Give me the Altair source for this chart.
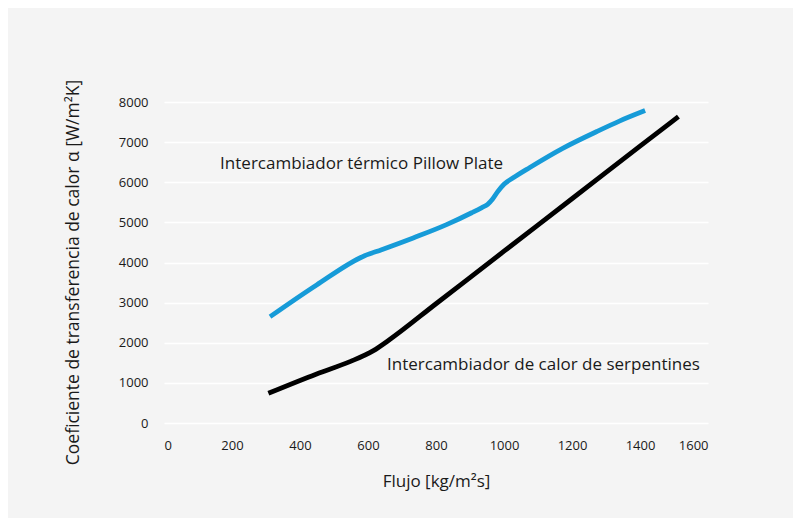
import altair as alt
import pandas as pd

# Pillow Plate heat exchanger (blue)
pillow_x = [312, 449, 590, 640, 733, 831, 905, 935, 952, 966, 981, 1000, 1027, 1076, 1174, 1273, 1341, 1415]
pillow_y = [2650, 3441, 4170, 4320, 4612, 4943, 5240, 5370, 5450, 5575, 5760, 5950, 6110, 6368, 6851, 7264, 7530, 7786]

# Coil heat exchanger (black)
coil_x = [307, 449, 547, 616, 660, 800, 1000, 1200, 1400, 1513]
coil_y = [740, 1222, 1529, 1803, 2056, 2972, 4281, 5589, 6898, 7637]

series_names = ["Intercambiador térmico Pillow Plate", "Intercambiador de calor de serpentines"]
series_colors = ["#169bd8", "#000000"]

label_x = [165, 656]
label_y = [6334, 1322]

x_ticks = [0, 200, 400, 600, 800, 1000, 1200, 1400, 1600]
y_ticks = [0, 1000, 2000, 3000, 4000, 5000, 6000, 7000, 8000]

x_title = "Flujo [kg/m²s]"
y_title = "Coeficiente de transferencia de calor α [W/m²K]"

rows = []
for i, (x, y) in enumerate(zip(pillow_x, pillow_y)):
    rows.append({"serie": series_names[0], "flujo": x, "coef": y, "orden": i})
for i, (x, y) in enumerate(zip(coil_x, coil_y)):
    rows.append({"serie": series_names[1], "flujo": x, "coef": y, "orden": i})
df = pd.DataFrame(rows)

labels = pd.DataFrame({"texto": series_names, "flujo": label_x, "coef": label_y})

FONT = "Open Sans"
TXT = "#1a1a1a"

xenc = alt.X(
    "flujo:Q",
    scale=alt.Scale(domain=[0, 1600], nice=False, zero=False),
    axis=alt.Axis(
        values=x_ticks, format="d", title=x_title, grid=False, domain=False, ticks=False,
        labelFontSize=13, labelPadding=16, labelColor=TXT, labelFont=FONT,
        titleFontSize=17, titleFont=FONT, titleFontWeight="normal", titleColor=TXT,
        titleX=272, titleY=58, titleBaseline="middle", titleAlign="center",
    ),
)
yenc = alt.Y(
    "coef:Q",
    scale=alt.Scale(domain=[0, 8000], nice=False),
    axis=alt.Axis(
        values=y_ticks, format="d", title=y_title, grid=True, gridColor="#ffffff", gridWidth=1.5,
        domain=False, ticks=False,
        labelFontSize=13, labelPadding=16, labelColor=TXT, labelFont=FONT,
        titleFontSize=17.5, titleFont=FONT, titleFontWeight="normal", titleColor=TXT,
        titleX=-91, titleY=170, titleBaseline="middle", titleAlign="center", titleAngle=270,
    ),
)

lines = alt.Chart(df).mark_line(strokeWidth=4.8, interpolate="monotone").encode(
    x=xenc,
    y=yenc,
    order="orden:Q",
    color=alt.Color("serie:N", scale=alt.Scale(domain=series_names, range=series_colors), legend=None),
)

text = alt.Chart(labels).mark_text(
    align="left", baseline="alphabetic", fontSize=17, font=FONT, color=TXT
).encode(x=alt.X("flujo:Q"), y=alt.Y("coef:Q"), text="texto:N")

chart = alt.layer(lines, text).properties(
    width=544,
    height=321,
    autosize=alt.AutoSizeParams(type="none"),
    padding={"left": 156, "top": 94, "right": 85, "bottom": 95},
    background="#f4f4f4",
).configure_view(stroke=None)

chart.save("out.html", embed_options={"renderer": "svg", "actions": False})
